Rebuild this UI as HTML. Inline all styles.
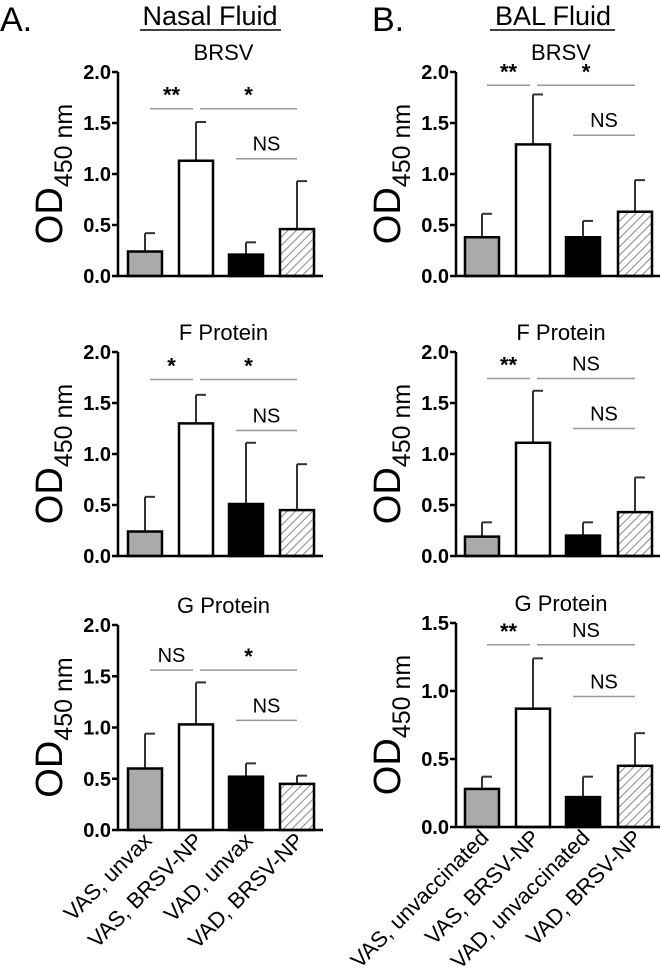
<!DOCTYPE html>
<html><head><meta charset="utf-8"><style>
html,body{margin:0;padding:0;background:#fff;}
svg{display:block;font-family:"Liberation Sans",Arial,sans-serif;}
</style></head><body>
<svg id="fig" width="661" height="976" viewBox="0 0 661 976" xmlns="http://www.w3.org/2000/svg">
<defs>
<pattern id="hatch" patternUnits="userSpaceOnUse" width="6" height="6" patternTransform="rotate(45)">
<rect width="6" height="6" fill="#fff"/><line x1="0" y1="0" x2="0" y2="6" stroke="#888" stroke-width="2"/>
</pattern>
</defs>
<text x="0" y="31" font-size="34">A.</text>
<text x="210" y="25" font-size="27" text-anchor="middle">Nasal Fluid</text>
<line x1="140" y1="30" x2="281" y2="30" stroke="#000" stroke-width="1.5"/>
<text x="372" y="31" font-size="34">B.</text>
<text x="553" y="25" font-size="27" text-anchor="middle">BAL Fluid</text>
<line x1="490" y1="30" x2="615" y2="30" stroke="#000" stroke-width="1.5"/>
</svg>
<script>
const categoriesA = ["VAS, unvax","VAS, BRSV-NP","VAD, unvax","VAD, BRSV-NP"];
const categoriesB = ["VAS, unvaccinated","VAS, BRSV-NP","VAD, unvaccinated","VAD, BRSV-NP"];
const titles = ["BRSV","F Protein","G Protein"];
const nasalMeans = [[0.24,1.13,0.21,0.46],[0.24,1.30,0.51,0.45],[0.60,1.03,0.52,0.45]];
const nasalErrTop = [[0.42,1.51,0.33,0.93],[0.58,1.58,1.11,0.90],[0.94,1.44,0.65,0.53]];
const balMeans = [[0.38,1.29,0.38,0.63],[0.19,1.11,0.20,0.43],[0.28,0.87,0.22,0.45]];
const balErrTop = [[0.61,1.78,0.54,0.94],[0.33,1.62,0.33,0.77],[0.37,1.24,0.37,0.69]];
const nasalYMax = [2.0,2.0,2.0];
const balYMax = [2.0,2.0,1.5];
const nasalTicks = ["0.0","0.5","1.0","1.5","2.0"];
const balGTicks = ["0.0","0.5","1.0","1.5"];
const nasalSig = [["**","*","NS"],["*","*","NS"],["NS","*","NS"]];
const balSig = [["**","*","NS"],["**","NS","NS"],["**","NS","NS"]];
const nasalSigY = [[1.64,1.15],[1.73,1.23],[1.56,1.07]];
const balSigY = [[1.87,1.38],[1.74,1.25],[1.34,0.96]];

const NS='http://www.w3.org/2000/svg';
const svg=document.getElementById('fig');
function mk(tag,attrs,parent){const e=document.createElementNS(NS,tag);for(const k in attrs)e.setAttribute(k,attrs[k]);(parent||svg).appendChild(e);return e;}
const fills=["#aaaaaa","#ffffff","#000000","url(#hatch)"];

function panel(side,row,means,errs,ymax,ticks,sigs,sigY,cats){
  const ax = side==='a'?118:456;
  const xEnd = side==='a'?323:660;
  const barX = side==='a'?[128,179,229,280]:[465,516,566,618];
  const bw = 34;
  const y0 = [276,556,side==='a'?830:827][row];
  const ytop = [72,352,side==='a'?625:623][row];
  const ys = v=>y0-(v/ymax)*(y0-ytop);
  const g=mk('g',{});
  
  
  const t=mk('text',{x:(ax+xEnd)/2+3,y:ytop-12,'font-size':22,'text-anchor':'middle'},g);
  t.textContent=titles[row];
  
  
  const yl=mk('text',{transform:`translate(${ax-56},${(y0+ytop)/2}) rotate(-90)`,'text-anchor':'middle','font-size':38},g);
  
  
  yl.innerHTML='OD<tspan font-size="25" dy="10">450 nm</tspan>';
  means.forEach((m,i)=>{
    const c=barX[i]+bw/2;
    const el=mk('line',{x1:c,x2:c,y1:ys(errs[i]),y2:ys(m),stroke:'#333','stroke-width':2},g);
    
    
    const cap=mk('line',{x1:c,x2:c+10,y1:ys(errs[i]),y2:ys(errs[i]),stroke:'#333','stroke-width':2},g);
    
    
    const r=mk('rect',{x:barX[i],y:ys(m),width:bw,height:y0-ys(m),fill:fills[i],stroke:'#000','stroke-width':2.5},g);
    
    
  });
  const axl=mk('path',{d:`M${ax},${ytop} V${y0} H${xEnd}`,fill:'none',stroke:'#000','stroke-width':2.5},g);
  
  
  ticks.forEach(lab=>{
    const v=parseFloat(lab);
    mk('line',{x1:ax-6,x2:ax,y1:ys(v),y2:ys(v),stroke:'#000','stroke-width':2.5},g);
    const tl=mk('text',{x:ax-7,y:ys(v)+7,'text-anchor':'end','font-size':20,'font-weight':'bold'},g);
    tl.textContent=lab;
    
    
  });
  const cs=barX.map(x=>x+bw/2);
  const sigLines=[[cs[0]+5,cs[1]-3,sigY[0],sigs[0]],[cs[1]+4,cs[3],sigY[0],sigs[1]],[cs[2]-10,cs[3],sigY[1],sigs[2]]];
  sigLines.forEach(s=>{
    const y=ys(s[2]);
    const l=mk('line',{x1:s[0],x2:s[1],y1:y,y2:y,stroke:'#999','stroke-width':1.5},g);
    
    
    const st=s[3].indexOf('*')>=0;
    const tx=mk('text',{x:(s[0]+s[1])/2,y:st?y-6:y-8,'text-anchor':'middle','font-size':st?22:20,'font-weight':st?'bold':'normal'},g);
    tx.textContent=s[3];
    
    
  });
  if(row===2){
    cats.forEach((c,i)=>{
      const xl=mk('text',{transform:`translate(${cs[i]+8},${y0+12}) rotate(-45)`,'text-anchor':'end','font-size':22},g);
      xl.textContent=c;
      
      
    });
  }
}
for(let r=0;r<3;r++){
  panel('a',r,nasalMeans[r],nasalErrTop[r],nasalYMax[r],nasalTicks,nasalSig[r],nasalSigY[r],categoriesA);
  panel('b',r,balMeans[r],balErrTop[r],balYMax[r],r===2?balGTicks:nasalTicks,balSig[r],balSigY[r],categoriesB);
}
</script>
</body></html>
